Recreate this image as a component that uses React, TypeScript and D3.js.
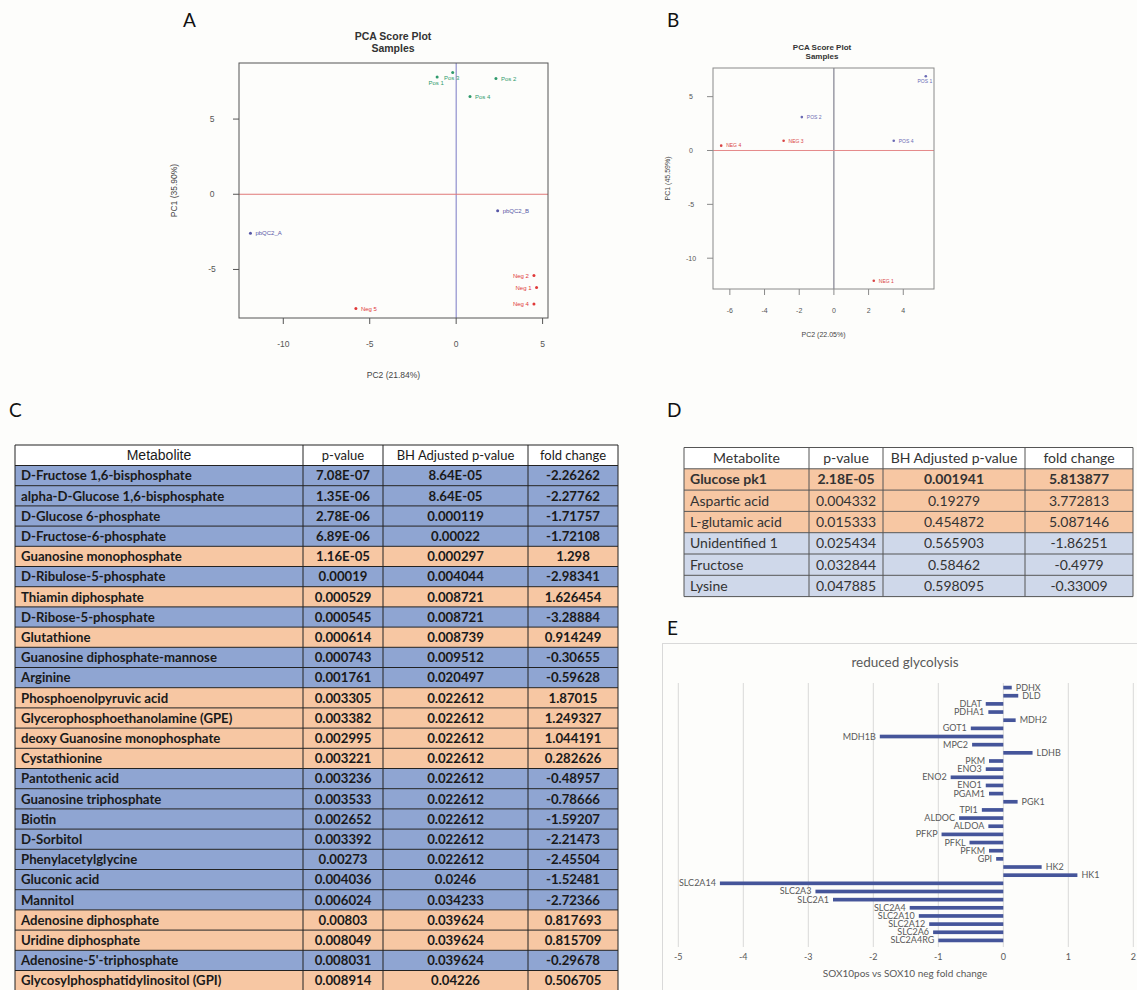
import React from 'react';
import * as d3 from 'd3';

const SANS = "'Liberation Sans', Arial, sans-serif";
const CAL = "Lato, 'Open Sans', sans-serif";

// ---------- Panel A: PCA score plot ----------
const samplesA = ['Pos 1', 'Pos 3', 'Pos 2', 'Pos 4', 'pbQC2_A', 'pbQC2_B', 'Neg 2', 'Neg 1', 'Neg 4', 'Neg 5'];
const pc2A = [-1.1, -0.2, 2.3, 0.8, -11.9, 2.4, 4.5, 4.65, 4.5, -5.8];
const pc1A = [7.8, 8.1, 7.7, 6.5, -2.6, -1.1, -5.4, -6.2, -7.3, -7.6];
const groupA = ['pos', 'pos', 'pos', 'pos', 'qc', 'qc', 'neg', 'neg', 'neg', 'neg'];
const xTicksA = [-10, -5, 0, 5];
const yTicksA = [-5, 0, 5];

// ---------- Panel B: PCA score plot ----------
const samplesB = ['POS 1', 'POS 2', 'POS 4', 'NEG 3', 'NEG 4', 'NEG 1'];
const pc2B = [5.3, -1.85, 3.45, -2.9, -6.5, 2.3];
const pc1B = [6.9, 3.1, 0.9, 0.9, 0.45, -12.1];
const groupB = ['pos', 'pos', 'pos', 'neg', 'neg', 'neg'];
const xTicksB = [-6, -4, -2, 0, 2, 4];
const yTicksB = [-10, -5, 0, 5];

// ---------- Panel C: metabolite table ----------
const headerC = ['Metabolite', 'p-value', 'BH Adjusted p-value', 'fold change'];
const metabolitesC = [
  'D-Fructose 1,6-bisphosphate', 'alpha-D-Glucose 1,6-bisphosphate', 'D-Glucose 6-phosphate',
  'D-Fructose-6-phosphate', 'Guanosine monophosphate', 'D-Ribulose-5-phosphate', 'Thiamin diphosphate',
  'D-Ribose-5-phosphate', 'Glutathione', 'Guanosine diphosphate-mannose', 'Arginine',
  'Phosphoenolpyruvic acid', 'Glycerophosphoethanolamine (GPE)', 'deoxy Guanosine monophosphate',
  'Cystathionine', 'Pantothenic acid', 'Guanosine triphosphate', 'Biotin', 'D-Sorbitol',
  'Phenylacetylglycine', 'Gluconic acid', 'Mannitol', 'Adenosine diphosphate', 'Uridine diphosphate',
  "Adenosine-5'-triphosphate", 'Glycosylphosphatidylinositol (GPI)',
];
const pValuesC = [
  '7.08E-07', '1.35E-06', '2.78E-06', '6.89E-06', '1.16E-05', '0.00019', '0.000529', '0.000545',
  '0.000614', '0.000743', '0.001761', '0.003305', '0.003382', '0.002995', '0.003221', '0.003236',
  '0.003533', '0.002652', '0.003392', '0.00273', '0.004036', '0.006024', '0.00803', '0.008049',
  '0.008031', '0.008914',
];
const bhAdjustedC = [
  '8.64E-05', '8.64E-05', '0.000119', '0.00022', '0.000297', '0.004044', '0.008721', '0.008721',
  '0.008739', '0.009512', '0.020497', '0.022612', '0.022612', '0.022612', '0.022612', '0.022612',
  '0.022612', '0.022612', '0.022612', '0.022612', '0.0246', '0.034233', '0.039624', '0.039624',
  '0.039624', '0.04226',
];
const foldChangeC = [
  -2.26262, -2.27762, -1.71757, -1.72108, 1.298, -2.98341, 1.626454, -3.28884, 0.914249, -0.30655,
  -0.59628, 1.87015, 1.249327, 1.044191, 0.282626, -0.48957, -0.78666, -1.59207, -2.21473, -2.45504,
  -1.52481, -2.72366, 0.817693, 0.815709, -0.29678, 0.506705,
];

// ---------- Panel D: metabolite table ----------
const headerD = ['Metabolite', 'p-value', 'BH Adjusted p-value', 'fold change'];
const metabolitesD = ['Glucose pk1', 'Aspartic acid', 'L-glutamic acid', 'Unidentified 1', 'Fructose', 'Lysine'];
const pValuesD = ['2.18E-05', '0.004332', '0.015333', '0.025434', '0.032844', '0.047885'];
const bhAdjustedD = ['0.001941', '0.19279', '0.454872', '0.565903', '0.58462', '0.598095'];
const foldChangeD = [5.813877, 3.772813, 5.087146, -1.86251, -0.4979, -0.33009];

// ---------- Panel E: glycolysis gene fold changes ----------
const genesE = [
  'PDHX', 'DLD', 'DLAT', 'PDHA1', 'MDH2', 'GOT1', 'MDH1B', 'MPC2', 'LDHB', 'PKM', 'ENO3', 'ENO2',
  'ENO1', 'PGAM1', 'PGK1', 'TPI1', 'ALDOC', 'ALDOA', 'PFKP', 'PFKL', 'PFKM', 'GPI', 'HK2', 'HK1',
  'SLC2A14', 'SLC2A3', 'SLC2A1', 'SLC2A4', 'SLC2A10', 'SLC2A12', 'SLC2A6', 'SLC2A4RG',
];
const foldE = [
  0.13, 0.23, -0.27, -0.23, 0.19, -0.5, -1.9, -0.48, 0.45, -0.22, -0.27, -0.81,
  -0.27, -0.22, 0.22, -0.33, -0.68, -0.23, -0.95, -0.52, -0.22, -0.11, 0.59, 1.14,
  -4.36, -2.89, -2.62, -1.44, -1.3, -1.14, -1.08, -1.0,
];
const xTicksE = [-5, -4, -3, -2, -1, 0, 1, 2];

type Placement = 'right' | 'left' | 'below';

type PcaProps = {
  samples: string[];
  pc2: number[];
  pc1: number[];
  groups: string[];
  colors: Record<string, string>;
  placement: (name: string) => Placement;
  left: number; right: number; top: number; bottom: number;
  xTicks: number[]; yTicks: number[];
  xLabel: string; yLabel: string;
  titleX: number; titleY: number; titleSize: number;
  tickSize: number; labelSize: number; pointLabelSize: number;
  frame: string; vLine: string; hLine: string;
  xLabelY: number; yLabelX: number; tickLabelGap: number; yTickLabelX: number;
  dotR: number;
};

// R-style axis range: data extent widened by 4% on each side
const rRange = (v: number[]): [number, number] => {
  const [a, b] = d3.extent(v) as [number, number];
  const pad = (b - a) * 0.04;
  return [a - pad, b + pad];
};

function PcaPanel(p: PcaProps) {
  const x = d3.scaleLinear().domain(rRange(p.pc2)).range([p.left, p.right]);
  const y = d3.scaleLinear().domain(rRange(p.pc1)).range([p.bottom, p.top]);
  const cy = (p.top + p.bottom) / 2;
  return (
    <g fontFamily={SANS}>
      <text x={p.titleX} y={p.titleY} textAnchor="middle" fontWeight="bold" fontSize={p.titleSize} fill="#333">
        PCA Score Plot
      </text>
      <text x={p.titleX} y={p.titleY + p.titleSize * 1.1} textAnchor="middle" fontWeight="bold" fontSize={p.titleSize} fill="#333">
        Samples
      </text>
      <line x1={x(0)} x2={x(0)} y1={p.top} y2={p.bottom} stroke={p.vLine} strokeWidth={1} />
      <line x1={p.left} x2={p.right} y1={y(0)} y2={y(0)} stroke={p.hLine} strokeWidth={1} />
      <rect x={p.left} y={p.top} width={p.right - p.left} height={p.bottom - p.top} fill="none" stroke={p.frame} strokeWidth={1} />
      {p.xTicks.map((t) => (
        <g key={'xt' + t}>
          <line x1={x(t)} x2={x(t)} y1={p.bottom} y2={p.bottom + 6} stroke={p.frame} />
          <text x={x(t)} y={p.bottom + p.tickLabelGap} textAnchor="middle" fontSize={p.tickSize} fill="#555">
            {t}
          </text>
        </g>
      ))}
      {p.yTicks.map((t) => (
        <g key={'yt' + t}>
          <line x1={p.left - 6} x2={p.left} y1={y(t)} y2={y(t)} stroke={p.frame} />
          <text x={p.yTickLabelX} y={y(t) + p.tickSize * 0.35} textAnchor="middle" fontSize={p.tickSize} fill="#555">
            {t}
          </text>
        </g>
      ))}
      <text x={(p.left + p.right) / 2} y={p.xLabelY} textAnchor="middle" fontSize={p.labelSize} fill="#444">
        {p.xLabel}
      </text>
      <text transform={`translate(${p.yLabelX},${cy}) rotate(-90)`} textAnchor="middle" fontSize={p.labelSize} fill="#444">
        {p.yLabel}
      </text>
      {p.samples.map((s, i) => {
        const px = x(p.pc2[i]);
        const py = y(p.pc1[i]);
        const col = p.colors[p.groups[i]];
        const place = p.placement(s);
        let tx = px + 5, ty = py + p.pointLabelSize * 0.35, anchor = 'start';
        if (place === 'left') { tx = px - 5; anchor = 'end'; }
        if (place === 'below') { tx = px - 1; ty = py + p.pointLabelSize + 2; anchor = 'middle'; }
        return (
          <g key={s}>
            <circle cx={px} cy={py} r={p.dotR} fill={col} />
            <text x={tx} y={ty} textAnchor={anchor as any} fontSize={p.pointLabelSize} fill={col}>
              {s}
            </text>
          </g>
        );
      })}
    </g>
  );
}

type TableProps = {
  edges: number[];
  top: number;
  headerH: number;
  rowH: number;
  header: string[];
  rows: string[][];
  fills: string[];
  headerFonts: { family: string; size: number }[];
  bodySize: number;
  boldRow: (i: number) => boolean;
  textColor: string;
  stroke: string;
};

function DataTable(t: TableProps) {
  const n = t.rows.length;
  const rowY = d3.scaleLinear().domain([0, n]).range([t.top + t.headerH, t.top + t.headerH + n * t.rowH]);
  const bottom = rowY(n);
  const left = t.edges[0];
  const right = t.edges[t.edges.length - 1];
  const cx = (c: number) => (t.edges[c] + t.edges[c + 1]) / 2;
  return (
    <g>
      <rect x={left} y={t.top} width={right - left} height={t.headerH} fill="#ffffff" />
      {t.rows.map((_, i) => (
        <rect key={'f' + i} x={left} y={rowY(i)} width={right - left} height={t.rowH} fill={t.fills[i]} />
      ))}
      {t.header.map((h, c) => (
        <text key={'h' + c} x={cx(c)} y={t.top + t.headerH / 2 + t.headerFonts[c].size * 0.35} textAnchor="middle"
          fontFamily={t.headerFonts[c].family} fontSize={t.headerFonts[c].size} fill={t.textColor}>
          {h}
        </text>
      ))}
      {t.rows.map((r, i) =>
        r.map((v, c) => (
          <text key={'c' + i + '_' + c} x={c === 0 ? t.edges[0] + 6 : cx(c)} y={rowY(i) + t.rowH / 2 + t.bodySize * 0.36}
            textAnchor={c === 0 ? 'start' : 'middle'} fontFamily={CAL} fontSize={t.bodySize}
            fontWeight={t.boldRow(i) ? 'bold' : 'normal'} fill={t.textColor}>
            {v}
          </text>
        )),
      )}
      {d3.range(n + 2).map((i) => {
        const yy = i === 0 ? t.top : rowY(i - 1);
        return <line key={'hl' + i} x1={left} x2={right} y1={yy} y2={yy} stroke={t.stroke} strokeWidth={1} />;
      })}
      {t.edges.map((e, i) => (
        <line key={'vl' + i} x1={e} x2={e} y1={t.top} y2={bottom} stroke={t.stroke} strokeWidth={1} />
      ))}
    </g>
  );
}

function GlycolysisChart() {
  const left = 678.3, right = 1133.3;
  const x = d3.scaleLinear().domain([-5, 2]).range([left, right]);
  const y = d3.scaleBand<string>().domain(genesE).range([683.5, 944.5]).paddingInner(0.55).paddingOuter(0.275);
  const labelFill = '#595959';
  return (
    <g fontFamily={CAL}>
      <rect x={662.5} y={643.5} width={490} height={360} fill="#fdfdfb" stroke="#d9d9d9" strokeWidth={1} />
      <text x={905} y={667} textAnchor="middle" fontSize={13.5} fill={labelFill}>
        reduced glycolysis
      </text>
      {xTicksE.map((t) => (
        <g key={t}>
          <line x1={x(t)} x2={x(t)} y1={683} y2={947} stroke="#d9d9d9" strokeWidth={1} />
          <text x={x(t)} y={960} textAnchor="middle" fontSize={9} fill={labelFill}>
            {t}
          </text>
        </g>
      ))}
      {genesE.map((g, i) => {
        const v = foldE[i];
        const y0 = y(g) as number;
        const bw = y.bandwidth();
        const x0 = Math.min(x(0), x(v));
        const w = Math.abs(x(v) - x(0));
        return (
          <g key={g}>
            <rect x={x0} y={y0} width={w} height={bw} fill="#45559a" />
            <text x={v < 0 ? x(v) - 4 : x(v) + 4} y={y0 + bw / 2 + 3} textAnchor={v < 0 ? 'end' : 'start'}
              fontSize={9} fill={labelFill}>
              {g}
            </text>
          </g>
        );
      })}
      <text x={905} y={977} textAnchor="middle" fontSize={10} fill={labelFill}>
        SOX10pos vs SOX10 neg fold change
      </text>
    </g>
  );
}

const PanelLetter = ({ x, y, t }: { x: number; y: number; t: string }) => (
  <text x={x} y={y} fontFamily={CAL} fontSize={19} fill="#111">
    {t}
  </text>
);

export default function App() {
  const placeA = (s: string): Placement => (s === 'Pos 1' || s === 'Pos 3' ? 'below' : s.startsWith('Neg') && s !== 'Neg 5' ? 'left' : 'right');
  const placeB = (s: string): Placement => (s === 'POS 1' ? 'below' : 'right');
  const orange = '#f7c7a3';
  const blueC = '#8fa5d2';
  const blueD = '#cfd8ea';
  return (
    <svg width={1137} height={990} style={{ position: 'absolute', left: 0, top: 0, display: 'block' }}>
      <rect x={0} y={0} width={1137} height={990} fill="#fdfdfb" />
      <PanelLetter x={183} y={27} t="A" />
      <PanelLetter x={667} y={27} t="B" />
      <PanelLetter x={9} y={417} t="C" />
      <PanelLetter x={667} y={417} t="D" />
      <PanelLetter x={667} y={635} t="E" />

      <PcaPanel
        samples={samplesA} pc2={pc2A} pc1={pc1A} groups={groupA}
        colors={{ pos: '#2f9a6c', qc: '#5656a6', neg: '#e03838' }}
        placement={placeA}
        left={239} right={548} top={63} bottom={318}
        xTicks={xTicksA} yTicks={yTicksA}
        xLabel="PC2 (21.84%)" yLabel="PC1 (35.90%)"
        titleX={393} titleY={40} titleSize={10.5}
        tickSize={8.5} labelSize={8.5} pointLabelSize={6}
        frame="#555" vLine="#7a7ac4" hLine="#e07878"
        xLabelY={378} yLabelX={177} tickLabelGap={29} yTickLabelX={212}
        dotR={1.5}
      />
      <PcaPanel
        samples={samplesB} pc2={pc2B} pc1={pc1B} groups={groupB}
        colors={{ pos: '#6a6ab4', neg: '#d94444' }}
        placement={placeB}
        left={713} right={934} top={68} bottom={289}
        xTicks={xTicksB} yTicks={yTicksB}
        xLabel="PC2 (22.05%)" yLabel="PC1 (45.59%)"
        titleX={822} titleY={50} titleSize={8}
        tickSize={7} labelSize={7} pointLabelSize={5}
        frame="#8a8a8a" vLine="#6a6a7a" hLine="#e58a8a"
        xLabelY={337} yLabelX={670} tickLabelGap={24} yTickLabelX={691}
        dotR={1.3}
      />

      <DataTable
        edges={[15, 303, 383, 528, 618]}
        top={445} headerH={20.5} rowH={20.2}
        header={headerC}
        rows={metabolitesC.map((m, i) => [m, pValuesC[i], bhAdjustedC[i], String(foldChangeC[i])])}
        fills={foldChangeC.map((f) => (f > 0 ? orange : blueC))}
        headerFonts={[{ family: SANS, size: 14 }, { family: CAL, size: 13 }, { family: CAL, size: 13 }, { family: CAL, size: 13 }]}
        bodySize={13.2}
        boldRow={() => true}
        textColor="#1a1a1a"
        stroke="#222"
      />
      <DataTable
        edges={[684, 809, 883, 1025, 1133]}
        top={447.5} headerH={21.3} rowH={21.3}
        header={headerD}
        rows={metabolitesD.map((m, i) => [m, pValuesD[i], bhAdjustedD[i], String(foldChangeD[i])])}
        fills={foldChangeD.map((f) => (f > 0 ? orange : blueD))}
        headerFonts={[{ family: CAL, size: 14 }, { family: CAL, size: 14 }, { family: CAL, size: 14 }, { family: CAL, size: 14 }]}
        bodySize={14}
        boldRow={(i) => i === 0}
        textColor="#333"
        stroke="#555"
      />

      <GlycolysisChart />
    </svg>
  );
}
